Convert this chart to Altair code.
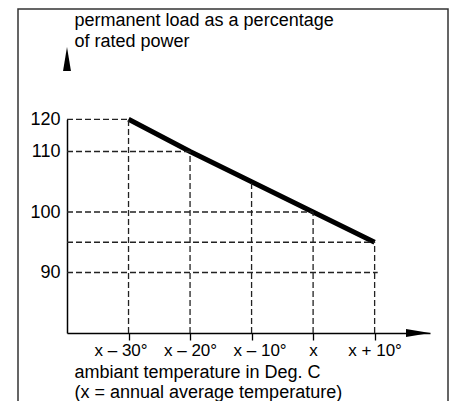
import altair as alt
import pandas as pd

# ---- data ----
temps = [-30, -20, -10, 0, 10]
temp_labels = ["x – 30°", "x – 20°", "x – 10°", "x", "x + 10°"]
load = [120, 110, 105, 100, 95]
y_ticks = [90, 100, 110, 120]
h_levels = [120, 110, 100, 95, 90]
h_ends = [-30, -20, 0, 10, 10.5]
x_axis_start = -40
y_axis_start = 80

y_title = ["permanent load as a percentage", "of rated power"]
x_title = ["ambiant temperature in Deg. C", "(x = annual average temperature)"]

FONT = "Liberation Sans"
W, H = 363, 286

line_df = pd.DataFrame({"t": temps, "load": load})
h_df = pd.DataFrame({"t": [x_axis_start] * len(h_levels), "t2": h_ends, "load": h_levels})
v_df = pd.DataFrame({"t": temps, "load": [y_axis_start] * len(temps), "load2": load})

xscale = alt.Scale(domain=[-40, 19], nice=False, zero=False)
yscale = alt.Scale(domain=[80, 110, 120], range=[H, 104.5, 72.3], nice=False, zero=False)

label_expr = "[" + ",".join("'%s'" % s for s in temp_labels) + "][indexof([" + \
    ",".join(str(t) for t in temps) + "], datum.value)]"

line = alt.Chart(line_df).mark_line(color="black", strokeWidth=5, strokeCap="butt").encode(
    x=alt.X("t:Q", scale=xscale, axis=alt.Axis(
        values=temps, labelExpr=label_expr, grid=False, ticks=True, tickSize=7,
        tickColor="black", tickWidth=1.3, domainColor="black", domainWidth=1.5,
        labelFontSize=17, labelPadding=2, labelColor="black", labelFont=FONT,
        labelOffset={"condition": [{"test": "datum.value == -30", "value": -8},
                                   {"test": "datum.value == -10", "value": 8}],
                     "value": 0},
        title=x_title, titleFont=FONT, titleFontSize=18, titleFontWeight="normal",
        titleAlign="left", titleAnchor="start", titleBaseline="alphabetic",
        titleX=7, titleY=44, titleLineHeight=20, titleColor="black")),
    y=alt.Y("load:Q", scale=yscale, axis=alt.Axis(
        values=y_ticks, grid=False, ticks=False, domainColor="black", domainWidth=1.5,
        labelFontSize=18, labelPadding=7, labelColor="black", labelFont=FONT,
        title=y_title, titleFont=FONT, titleFontSize=18, titleFontWeight="normal",
        titleAngle=0, titleAlign="left", titleAnchor="start", titleBaseline="alphabetic",
        titleX=7, titleY=-22, titleLineHeight=21, titleColor="black")),
)

hrules = alt.Chart(h_df).mark_rule(color="#222", strokeWidth=1.3, strokeDash=[6, 3]).encode(
    x=alt.X("t:Q", scale=xscale), x2="t2:Q",
    y=alt.Y("load:Q", scale=yscale),
)
vrules = alt.Chart(v_df).mark_rule(color="#222", strokeWidth=1.3, strokeDash=[6, 3]).encode(
    x=alt.X("t:Q", scale=xscale),
    y=alt.Y("load:Q", scale=yscale), y2="load2:Q",
)

one = pd.DataFrame({"a": [0]})
up_arrow = alt.Chart(one).mark_point(
    shape="M0,-1L0.33,1L-0.33,1Z", size=576, filled=True, color="black", opacity=1, strokeWidth=0
).encode(x=alt.value(0), y=alt.value(12))
right_arrow = alt.Chart(one).mark_point(
    shape="M1,0L-1,-0.33L-1,0.33Z", size=576, filled=True, color="black", opacity=1, strokeWidth=0
).encode(x=alt.value(W - 12), y=alt.value(H))

border = alt.Chart(one).mark_rect(filled=False, stroke="#333", strokeWidth=1.5, clip=False).encode(
    x=alt.value(-49), x2=alt.value(381), y=alt.value(-38), y2=alt.value(420)
)

chart = alt.layer(line, hrules, vrules, border, up_arrow, right_arrow).properties(
    width=W, height=H,
    autosize=alt.AutoSizeParams(type="none"),
    padding={"left": 59, "top": 39, "right": 19, "bottom": 68},
    background="white",
).configure_view(stroke=None)

chart.save("out.html", embed_options={"renderer": "svg", "actions": False})
